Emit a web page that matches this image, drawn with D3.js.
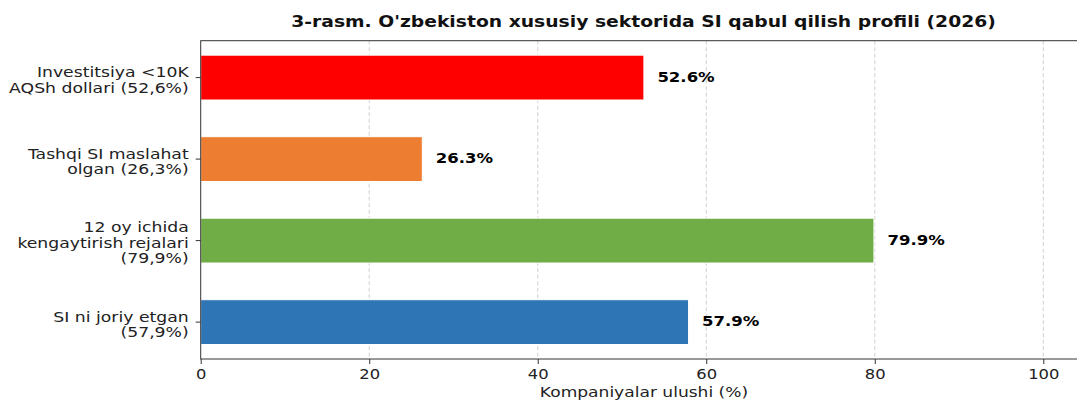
<!DOCTYPE html>
<html><head><meta charset="utf-8">
<script src="https://cdn.jsdelivr.net/npm/d3@7"></script>
<style>body{margin:0;background:#fff}svg{display:block}text{font-family:"DejaVu Sans",sans-serif}</style>
</head><body><svg id="c" width="1077" height="400"></svg>
<script>
const categories = [
  ["Investitsiya <10K", "AQSh dollari (52,6%)"],
  ["Tashqi SI maslahat", "olgan (26,3%)"],
  ["12 oy ichida", "kengaytirish rejalari", "(79,9%)"],
  ["SI ni joriy etgan", "(57,9%)"]
];
const values = [52.6, 26.3, 79.9, 57.9];
const valueLabels = ["52.6%", "26.3%", "79.9%", "57.9%"];
const colors = ["#FF0000", "#ED7D31", "#70AD47", "#2E75B6"];
const xTicks = [0, 20, 40, 60, 80, 100];
const title = "3-rasm. O'zbekiston xususiy sektorida SI qabul qilish profili (2026)";
const xLabel = "Kompaniyalar ulushi (%)";

const svg = d3.select("#c");
const L = 200.7, T = 40.7, B = 359;
const x = d3.scaleLinear().domain([0, 100]).range([L, 1043.3]);
const R = x(105);
const barH = 0.55;
const y = d3.scaleLinear().domain([-0.4525, 3.4525]).range([T, B]);

// helper: place text with horizontal stretch around its anchor
function stretched(g, px, py, sx) {
  return g.append("text").attr("transform", `translate(${px},${py}) scale(${sx},1)`);
}

// grid
svg.append("g").selectAll("line").data(xTicks.filter(d => d > 0)).join("line")
  .attr("x1", d => x(d)).attr("x2", d => x(d)).attr("y1", T).attr("y2", B)
  .attr("stroke", "#d0d0d0").attr("stroke-width", 1).attr("stroke-dasharray", "4,2.5");

// bars
svg.append("g").selectAll("rect").data(values).join("rect")
  .attr("x", x(0)).attr("y", (d, i) => y(i - barH / 2))
  .attr("width", d => x(d) - x(0)).attr("height", y(barH) - y(0))
  .attr("fill", (d, i) => colors[i]).attr("stroke", "#fff").attr("stroke-width", 1);

// value labels
const vg = svg.append("g");
values.forEach((v, i) => {
  stretched(vg, x(v + 1.6), y(i), 1.18)
    .attr("dy", "0.3em").attr("font-size", 14).attr("font-weight", "bold")
    .attr("fill", "#000").text(valueLabels[i]);
});

// spines
svg.append("rect").attr("x", L).attr("y", T).attr("width", R - L).attr("height", B - T)
  .attr("fill", "none").attr("stroke", "#333").attr("stroke-width", 1);

// x axis
const xa = svg.append("g").attr("transform", `translate(0,${B})`)
  .call(d3.axisBottom(x).tickValues(xTicks).tickSize(5).tickPadding(5).tickFormat(d3.format("d")));
xa.select(".domain").remove();
xa.selectAll("line").attr("stroke", "#333");
xa.selectAll(".tick text").each(function () {
  const t = d3.select(this);
  const yy = +t.attr("y");
  t.attr("y", null).attr("transform", `translate(0,${yy}) scale(1.17,1)`);
}).attr("font-size", 14).attr("fill", "#222").attr("font-family", '"DejaVu Sans",sans-serif');

// y ticks & labels
const yg = svg.append("g");
categories.forEach((lines, i) => {
  const cy = y(i);
  yg.append("line").attr("x1", L - 5).attr("x2", L).attr("y1", cy).attr("y2", cy).attr("stroke", "#333");
  const lh = 15.6;
  const t = stretched(yg, L - 12, cy + 2, 1.19).attr("text-anchor", "end").attr("font-size", 14.5).attr("fill", "#222");
  lines.forEach((s, j) => {
    t.append("tspan").attr("x", 0).attr("y", (j - (lines.length - 1) / 2) * lh).attr("dy", "0.36em").text(s);
  });
});

// title
stretched(svg, 643.5, 27.3, 1.25).attr("text-anchor", "middle")
  .attr("font-size", 15).attr("font-weight", "bold").attr("fill", "#111").text(title);
// x label
stretched(svg, 644, 396.5, 1.22).attr("text-anchor", "middle")
  .attr("font-size", 14).attr("fill", "#222").text(xLabel);
</script></body></html>
